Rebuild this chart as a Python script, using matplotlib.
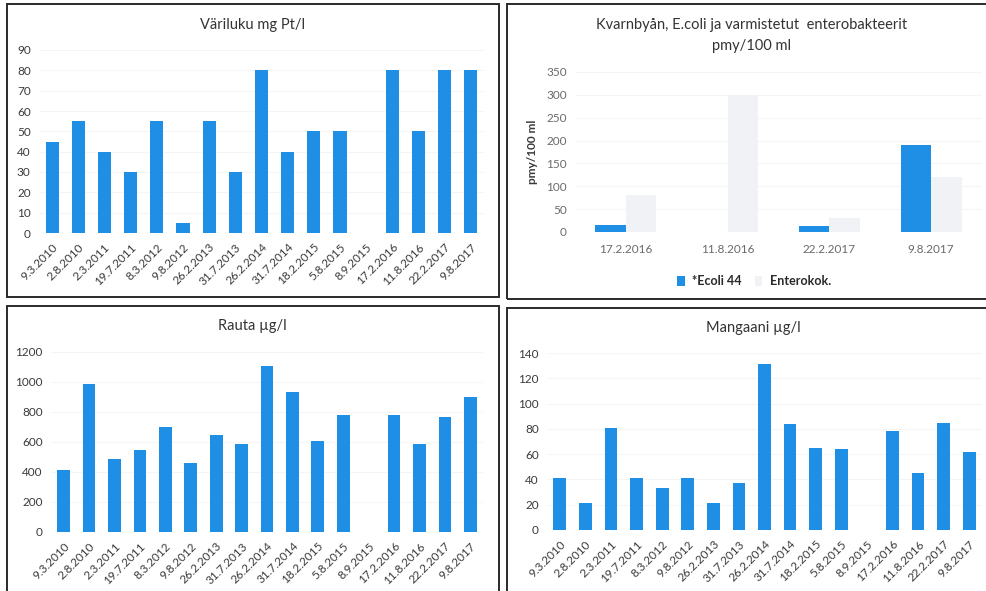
import numpy as np
import matplotlib
matplotlib.use('Agg')
import matplotlib.pyplot as plt
from matplotlib.patches import Rectangle

W, H = 986, 591

dates = ['9.3.2010', '2.8.2010', '2.3.2011', '19.7.2011', '8.3.2012', '9.8.2012',
         '26.2.2013', '31.7.2013', '26.2.2014', '31.7.2014', '18.2.2015', '5.8.2015',
         '8.9.2015', '17.2.2016', '11.8.2016', '22.2.2017', '9.8.2017']
variluku = [45, 55, 40, 30, 55, 5, 55, 30, 80, 40, 50, 50, np.nan, 80, 50, 80, 80]
rauta = [415, 985, 485, 545, 700, 460, 650, 590, 1110, 935, 610, 780, np.nan,
         780, 590, 765, 900]
mangaani = [41, 21, 81, 41, 33, 41, 21, 37, 131, 84, 65, 64, np.nan, 78, 45, 85, 62]

bakt_dates = ['17.2.2016', '11.8.2016', '22.2.2017', '9.8.2017']
ecoli = [15, 0, 13, 190]
enterokok = [80, 300, 30, 120]

BLUE = '#1f8fe5'
PALE = '#f1f2f5'
TXT = '#3a3a3a'

plt.rcParams['font.family'] = ['Lato', 'DejaVu Sans']

fig = plt.figure(figsize=(W / 100, H / 100), dpi=100)
fig.patch.set_facecolor('white')


def px_axes(l, t, r, b):
    return fig.add_axes([l / W, 1 - b / H, (r - l) / W, (b - t) / H])


def frame(l, t, r, b):
    fig.add_artist(Rectangle((l / W, 1 - b / H), (r - l) / W, (b - t) / H,
                             transform=fig.transFigure, fill=False,
                             edgecolor='#2a2a2a', linewidth=1.4))


def style(ax, ymax, step):
    for s in ax.spines.values():
        s.set_visible(False)
    ax.set_ylim(0, ymax)
    ax.set_yticks(np.arange(0, ymax + 1, step))
    ax.tick_params(length=0, labelsize=8.5, colors=TXT, pad=6)
    ax.grid(axis='y', color='#f5f5f5', linewidth=0.8)
    ax.set_axisbelow(True)


def series_chart(box, title, vals, ymax, step, title_xy):
    ax = px_axes(*box)
    x = np.arange(len(dates))
    ax.bar(x, vals, width=0.5, color=BLUE)
    style(ax, ymax, step)
    ax.set_xlim(-0.5, len(dates) - 0.5)
    ax.set_xticks(x)
    ax.set_xticklabels(dates, rotation=45, ha='right', rotation_mode='anchor',
                       fontsize=8.5, color=TXT)
    fig.text(title_xy[0] / W, 1 - title_xy[1] / H, title, ha='center',
             va='center', fontsize=10.5, color='#333333')
    return ax


frame(7, 4, 499, 297)
frame(507, 4, 992, 299)
frame(7, 306, 499, 598)
frame(507, 308, 992, 598)

series_chart((39, 50, 484, 233), 'Väriluku mg Pt/l', variluku, 90, 10, (253, 25))
series_chart((51, 352, 483, 532), 'Rauta µg/l', rauta, 1200, 200, (252, 326))
series_chart((547, 353, 982, 530), 'Mangaani µg/l', mangaani, 140, 20, (753, 328))

# E.coli / enterokokit
ax = px_axes(575, 72, 982, 232)
xb = np.arange(len(bakt_dates))
ax.bar(xb - 0.15, ecoli, width=0.3, color=BLUE, label='*Ecoli 44')
ax.bar(xb + 0.15, enterokok, width=0.3, color=PALE, label='Enterokok.')
style(ax, 350, 50)
ax.tick_params(colors='#6a6a6a')
ax.set_xlim(-0.5, len(bakt_dates) - 0.5)
ax.set_xticks(xb)
ax.set_xticklabels(bakt_dates, fontsize=8.5, color='#6a6a6a')
ax.tick_params(axis='x', pad=9)
ax.set_ylabel('pmy/100 ml', fontsize=8.5, fontweight='bold', color=TXT, labelpad=6)
fig.text(752 / W, 1 - 25 / H, 'Kvarnbyån, E.coli ja varmistetut  enterobakteerit',
         ha='center', va='center', fontsize=10.5, color='#333333')
fig.text(752 / W, 1 - 46 / H, 'pmy/100 ml', ha='center', va='center',
         fontsize=10.5, color='#333333')
leg = ax.legend(loc='upper center', bbox_to_anchor=(0.44, -0.2), ncol=2,
                frameon=False, fontsize=9, handlelength=0.6, handleheight=0.8,
                columnspacing=1.0, handletextpad=0.6, labelcolor='#2a2a2a')
for t in leg.get_texts():
    t.set_fontweight('bold')

fig.savefig('out.png', dpi=100)
